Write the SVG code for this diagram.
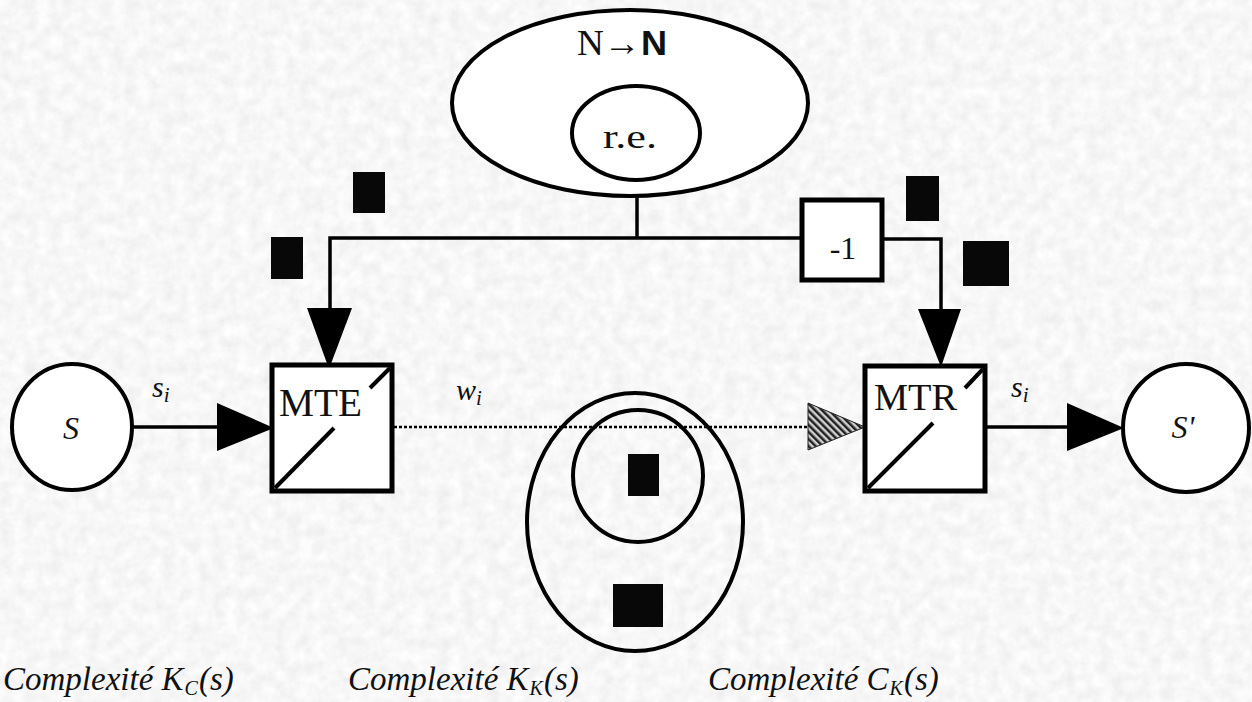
<svg xmlns="http://www.w3.org/2000/svg" width="1252" height="702" viewBox="0 0 1252 702">
<style>
.bg{fill:#ebebeb}
.node{fill:#ffffff;stroke:#000;stroke-width:4}
.ring{fill:none;stroke:#000;stroke-width:4}
.box{fill:#ffffff;stroke:#000;stroke-width:5}
.conn{fill:none;stroke:#000;stroke-width:3.5}
.dot{fill:none;stroke:#000;stroke-width:2.5;stroke-dasharray:3 2}
.diag{stroke:#000;stroke-width:4}
.head{fill:#000}
.hatch{fill:url(#hatch);stroke:#222;stroke-width:1}
.blk{fill:#080808}
.serif{font-family:"Liberation Serif","Times New Roman",serif;fill:#111}
.it{font-style:italic}
.sans{font-family:"Liberation Sans",Arial,sans-serif;font-weight:bold;fill:#111}
</style>
<defs>
<filter id="tex" x="0" y="0" width="100%" height="100%">
<feTurbulence type="fractalNoise" baseFrequency="0.08" numOctaves="3" seed="4"/>
<feColorMatrix type="matrix" values="0.2 0 0 0 0.83  0.2 0 0 0 0.83  0.2 0 0 0 0.83  0 0 0 0 1"/>
</filter>
<pattern id="hatch" patternUnits="userSpaceOnUse" width="5" height="5" patternTransform="rotate(-45)">
<rect width="5" height="5" fill="#cfcfcf"/>
<rect width="2.5" height="5" fill="#222"/>
</pattern>
</defs>
<rect class="bg" x="0" y="0" width="1252" height="702"/>
<rect x="0" y="0" width="1252" height="702" filter="url(#tex)"/>

<g id="connectors">
<line class="conn" x1="132" y1="427" x2="220" y2="427"/>
<polygon class="head" points="217,403 217,451 274,428"/>
<line class="dot" x1="394" y1="427" x2="810" y2="427"/>
<polygon class="hatch" points="808,403 808,450 865,427"/>
<line class="conn" x1="985" y1="427" x2="1070" y2="427"/>
<polygon class="head" points="1067,403 1067,451 1124,428"/>
<polyline class="conn" points="637,180 637,238"/>
<polyline class="conn" points="802,238 330,238 330,312"/>
<polygon class="head" points="307,308 352,308 329,369"/>
<polyline class="conn" points="882,239 941,239 941,312"/>
<polygon class="head" points="918,309 961,309 941,367"/>
</g>

<g id="NtoN">
<ellipse class="node" cx="630" cy="103" rx="178" ry="93"/>
<text class="serif" x="577" y="55" font-size="36" textLength="90" lengthAdjust="spacingAndGlyphs">N→<tspan class="sans" font-size="35">N</tspan></text>
</g>
<g id="re">
<ellipse class="node" cx="636" cy="133" rx="64" ry="47"/>
<text class="serif" x="630" y="148" font-size="33" text-anchor="middle" textLength="54" lengthAdjust="spacingAndGlyphs">r.e.</text>
</g>
<g id="minus1">
<rect class="box" x="802" y="200" width="80" height="80"/>
<text class="serif" x="843" y="259" font-size="32" text-anchor="middle">-1</text>
</g>

<g id="S">
<ellipse class="node" cx="72" cy="427" rx="60" ry="63"/>
<text class="serif it" x="71" y="439" font-size="32" text-anchor="middle">S</text>
</g>
<g id="MTE">
<rect class="box" x="272" y="365" width="120" height="126"/>
<line class="diag" x1="275" y1="488" x2="334" y2="428"/>
<line class="diag" x1="370" y1="388" x2="390" y2="368"/>
<text class="serif" x="279" y="416" font-size="39" textLength="83" lengthAdjust="spacingAndGlyphs">MTE</text>
</g>
<g id="MTR">
<rect class="box" x="865" y="366" width="120" height="125"/>
<line class="diag" x1="868" y1="488" x2="933" y2="423"/>
<line class="diag" x1="965" y1="388" x2="983" y2="369"/>
<text class="serif" x="874" y="410" font-size="38" textLength="83" lengthAdjust="spacingAndGlyphs">MTR</text>
</g>
<g id="Sprime">
<ellipse class="node" cx="1186" cy="428" rx="63" ry="64"/>
<text class="serif it" x="1183" y="438" font-size="32" text-anchor="middle">S'</text>
</g>

<g id="KK">
<ellipse class="ring" cx="635" cy="522" rx="108" ry="129"/>
<ellipse class="ring" cx="638" cy="476" rx="65" ry="66"/>
</g>

<g id="blocks">
<rect class="blk" x="353" y="172" width="32" height="41"/>
<rect class="blk" x="271" y="237" width="32" height="42"/>
<rect class="blk" x="906" y="176" width="33" height="45"/>
<rect class="blk" x="963" y="241" width="46" height="45"/>
<rect class="blk" x="628" y="454" width="31" height="42"/>
<rect class="blk" x="613" y="584" width="50" height="43"/>
</g>

<g id="labels">
<text class="serif it" x="152" y="397" font-size="30">s<tspan font-size="21" dy="5">i</tspan></text>
<text class="serif it" x="456" y="400" font-size="30">w<tspan font-size="21" dy="5">i</tspan></text>
<text class="serif it" x="1011" y="397" font-size="30">s<tspan font-size="21" dy="5">i</tspan></text>
<text class="serif it" x="3" y="690" font-size="33">Complexité K<tspan font-size="20" dx="1" dy="5">C</tspan><tspan dx="1" dy="-5">(s)</tspan></text>
<text class="serif it" x="348" y="690" font-size="33">Complexité K<tspan font-size="20" dx="1" dy="5">K</tspan><tspan dx="1" dy="-5">(s)</tspan></text>
<text class="serif it" x="708" y="690" font-size="33">Complexité C<tspan font-size="20" dx="1" dy="5">K</tspan><tspan dx="1" dy="-5">(s)</tspan></text>
</g>
</svg>
